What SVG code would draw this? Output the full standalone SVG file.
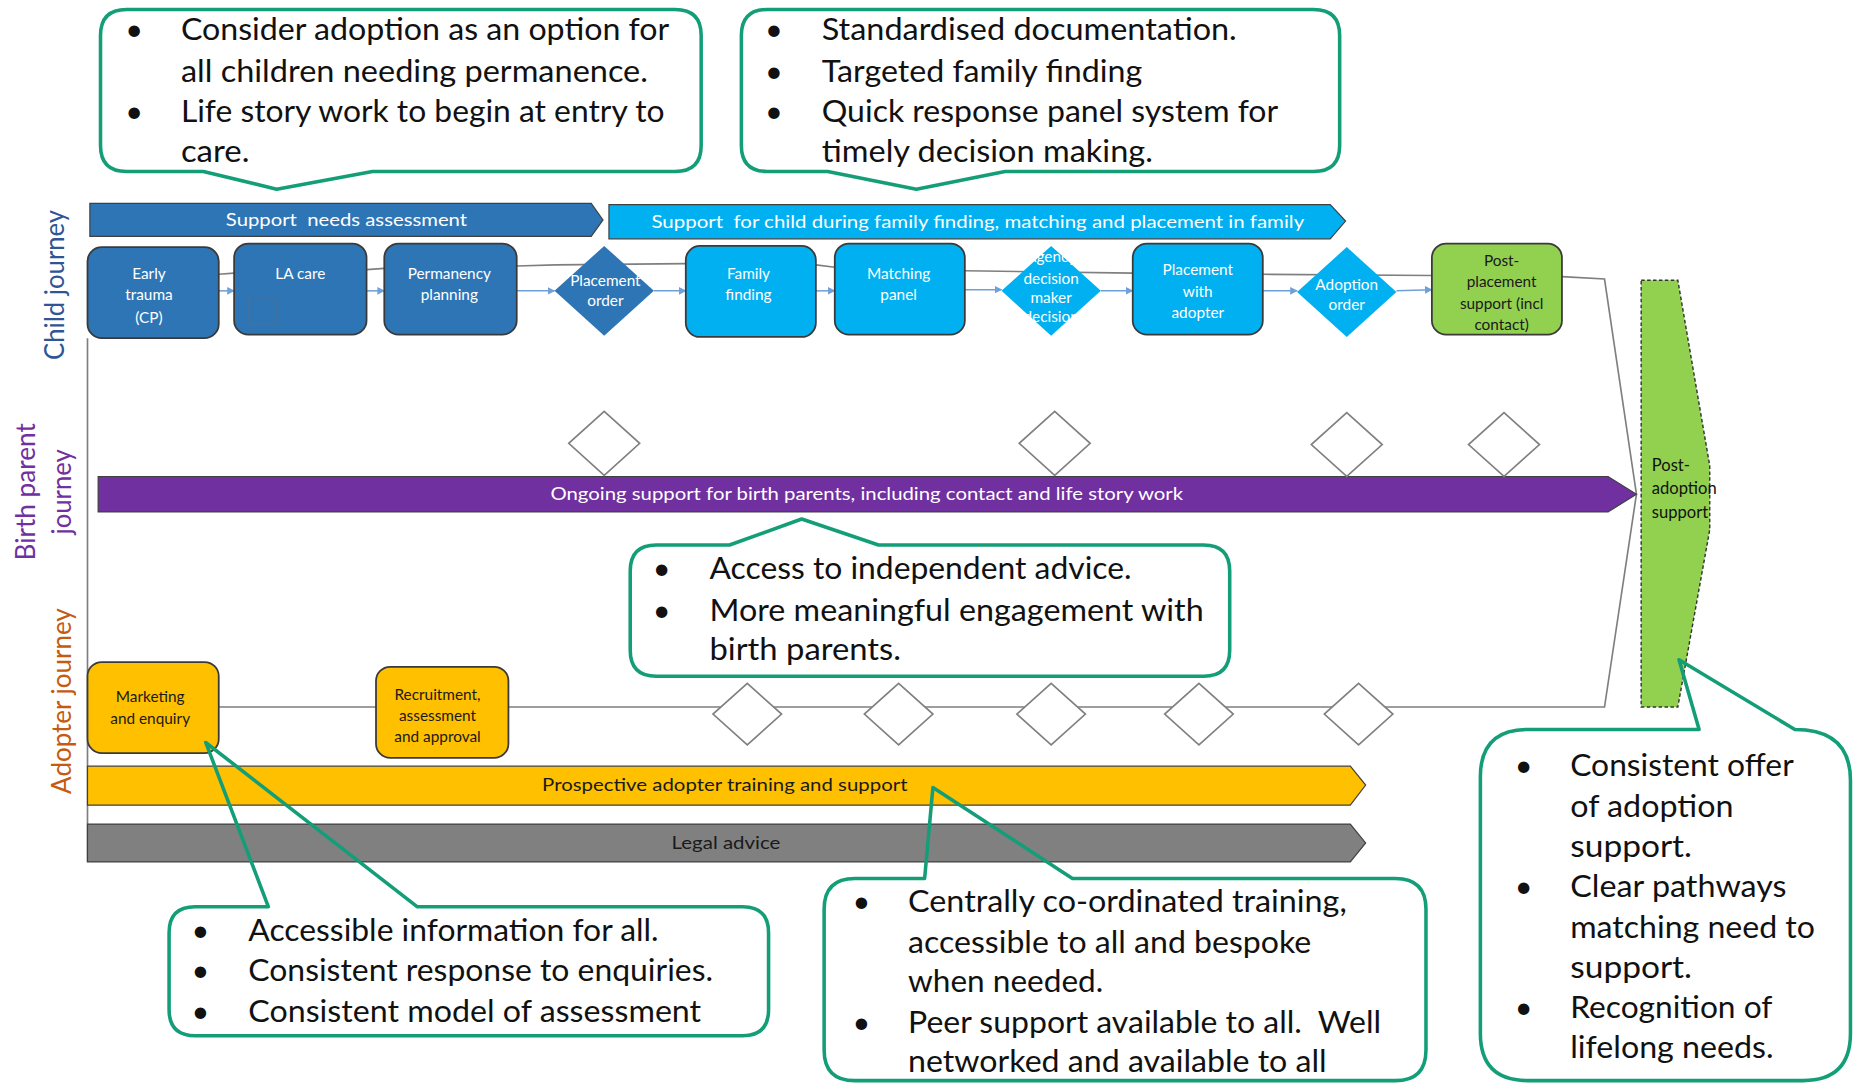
<svg xmlns="http://www.w3.org/2000/svg" width="1854" height="1083" viewBox="0 0 1854 1083">
<defs>
<style>
text{font-family:Lato,"Liberation Sans",sans-serif}
.co{fill:none;stroke:#139E78;stroke-width:3;stroke-linejoin:round}
.cb{fill:#fff}
.ct{font-size:26px;fill:#111}
.nd{stroke:#3A3A3A;stroke-width:1.5}
.blue{fill:#2E75B6}
.cyan{fill:#00B0F0}
.green{fill:#92D050}
.yel{fill:#FFC000}
.nt{font-size:13px;fill:#fff;text-anchor:middle}
.ntd{font-size:13px;fill:#1a1a1a;text-anchor:middle}
.bar{stroke:#404040;stroke-width:1}
.bt{font-size:15px;fill:#fff;text-anchor:middle;white-space:pre}
.btd{font-size:15px;fill:#1a1a1a;text-anchor:middle}
.wd{fill:#fff;stroke:#808080;stroke-width:1.4}
.gl{fill:none;stroke:#7F7F7F;stroke-width:1.4}
.ar{fill:none;stroke:#6FA0D8;stroke-width:1.3;marker-end:url(#ah)}
.lane{font-size:22px;text-anchor:middle}
</style>
<marker id="ah" viewBox="0 0 10 10" refX="9" refY="5" markerWidth="5" markerHeight="5" orient="auto" markerUnits="strokeWidth">
<path d="M0,0 L10,5 L0,10 Z" fill="#6FA0D8"/>
</marker>
</defs>
<rect width="1854" height="1083" fill="#fff"/>
<g transform="scale(1.1824,1.1823)">

<!-- lane labels -->
<g id="lane-labels">
<text class="lane" fill="#2F5597" transform="translate(46,241) rotate(-90)" dy="8" textLength="127" lengthAdjust="spacingAndGlyphs">Child journey</text>
<text class="lane" fill="#7030A0" transform="translate(22,416) rotate(-90)" dy="8" textLength="116" lengthAdjust="spacingAndGlyphs">Birth parent</text>
<text class="lane" fill="#7030A0" transform="translate(52,416) rotate(-90)" dy="8" textLength="72" lengthAdjust="spacingAndGlyphs">journey</text>
<text class="lane" fill="#C55A11" transform="translate(52,593) rotate(-90)" dy="8" textLength="157" lengthAdjust="spacingAndGlyphs">Adopter journey</text>
</g>

<!-- connectors -->
<g id="connectors">
<path class="gl" d="M74,286 L74,729"/>
<path class="gl" d="M185,232 L198,231 L310,228 L325,227 L437,225 L470,224 L580,223 L690,224 L706,226 L816,229 L958,231 L1068,232 L1211,233 L1321,234 L1357,236 L1384,418 L1357,598 L185,598"/>
<line class="ar" x1="185" y1="246" x2="198" y2="246"/>
<line class="ar" x1="310" y1="246" x2="325" y2="246"/>
<line class="ar" x1="437" y1="246" x2="469" y2="246"/>
<line class="ar" x1="553" y1="246" x2="580" y2="246"/>
<line class="ar" x1="690" y1="246" x2="706" y2="246"/>
<line class="ar" x1="816" y1="245" x2="847" y2="245"/>
<line class="ar" x1="931" y1="246" x2="958" y2="246"/>
<line class="ar" x1="1068" y1="246" x2="1097" y2="246"/>
<line class="ar" x1="1181" y1="246" x2="1211" y2="245"/>
</g>

<!-- bars -->
<g id="bar-support-needs">
<polygon class="bar blue" points="76,172 500,172 510,186 500,200 76,200"/>
<text class="bt" x="293" y="191" textLength="204" lengthAdjust="spacingAndGlyphs">Support  needs assessment</text>
</g>
<g id="bar-support-child">
<polygon class="bar cyan" points="515,173 1125,173 1138,187 1125,202 515,202"/>
<text class="bt" x="827" y="193" textLength="552" lengthAdjust="spacingAndGlyphs">Support  for child during family finding, matching and placement in family</text>
</g>
<g id="bar-birth-parent">
<polygon class="bar" fill="#7030A0" points="83,403 1360,403 1384,418 1360,433 83,433"/>
<text class="bt" x="733" y="423" textLength="535" lengthAdjust="spacingAndGlyphs">Ongoing support for birth parents, including contact and life story work</text>
</g>
<g id="bar-prospective">
<polygon class="bar yel" points="74,648 1142,648 1155,664 1142,681 74,681"/>
<text class="btd" x="613" y="669" textLength="309" lengthAdjust="spacingAndGlyphs">Prospective adopter training and support</text>
</g>
<g id="bar-legal">
<polygon class="bar" fill="#808080" points="74,697 1142,697 1155,713 1142,729 74,729"/>
<text class="btd" x="614" y="718" textLength="92" lengthAdjust="spacingAndGlyphs">Legal advice</text>
</g>

<!-- child journey nodes -->
<g id="early-trauma">
<rect class="nd blue" x="74" y="209" width="111" height="77" rx="12"/>
<text class="nt" x="126" y="236">Early</text>
<text class="nt" x="126" y="254">trauma</text>
<text class="nt" x="126" y="273">(CP)</text>
</g>
<g id="la-care">
<rect class="nd blue" x="198" y="206" width="112" height="77" rx="12"/>
<rect x="210" y="252" width="24" height="22" fill="none" stroke="#5a6f8a" stroke-width="1" opacity="0.5"/>
<text class="nt" x="254" y="236">LA care</text>
</g>
<g id="permanency-planning">
<rect class="nd blue" x="325" y="206" width="112" height="77" rx="12"/>
<text class="nt" x="380" y="236">Permanency</text>
<text class="nt" x="380" y="254">planning</text>
</g>
<g id="placement-order">
<polygon class="blue" points="511,208 553,246 511,284 469,246"/>
<text class="nt" x="512" y="242">Placement</text>
<text class="nt" x="512" y="259">order</text>
</g>
<g id="family-finding">
<rect class="nd cyan" x="580" y="208" width="110" height="77" rx="12"/>
<text class="nt" x="633" y="236">Family</text>
<text class="nt" x="633" y="254">finding</text>
</g>
<g id="matching-panel">
<rect class="nd cyan" x="706" y="206" width="110" height="77" rx="12"/>
<text class="nt" x="760" y="236">Matching</text>
<text class="nt" x="760" y="254">panel</text>
</g>
<g id="agency-decision">
<polygon class="cyan" points="889,208 931,246 889,284 847,246"/>
<text class="nt" x="889" y="222">Agency</text>
<text class="nt" x="889" y="240">decision</text>
<text class="nt" x="889" y="256">maker</text>
<text class="nt" x="889" y="272">decision</text>
</g>
<g id="placement-with-adopter">
<rect class="nd cyan" x="958" y="206" width="110" height="77" rx="12"/>
<text class="nt" x="1013" y="233">Placement</text>
<text class="nt" x="1013" y="251">with</text>
<text class="nt" x="1013" y="269">adopter</text>
</g>
<g id="adoption-order">
<polygon class="cyan" points="1139,209 1181,247 1139,285 1097,247"/>
<text class="nt" x="1139" y="245">Adoption</text>
<text class="nt" x="1139" y="262">order</text>
</g>
<g id="post-placement">
<rect class="nd green" x="1211" y="206" width="110" height="77" rx="12"/>
<text class="ntd" x="1270" y="225">Post-</text>
<text class="ntd" x="1270" y="243">placement</text>
<text class="ntd" x="1270" y="261">support (incl</text>
<text class="ntd" x="1270" y="279">contact)</text>
</g>

<!-- birth parent milestones -->
<g id="bp-milestone-1"><polygon class="wd" points="511,348 541,375 511,402 481,375"/></g>
<g id="bp-milestone-2"><polygon class="wd" points="892,348 922,375 892,402 862,375"/></g>
<g id="bp-milestone-3"><polygon class="wd" points="1139,349 1169,376 1139,403 1109,376"/></g>
<g id="bp-milestone-4"><polygon class="wd" points="1272,349 1302,376 1272,403 1242,376"/></g>

<!-- adopter journey nodes -->
<g id="marketing-enquiry">
<rect class="nd yel" x="74" y="560" width="111" height="77" rx="12"/>
<text class="ntd" x="127" y="594">Marketing</text>
<text class="ntd" x="127" y="612">and enquiry</text>
</g>
<g id="recruitment">
<rect class="nd yel" x="318" y="564" width="112" height="77" rx="12"/>
<text class="ntd" x="370" y="592">Recruitment,</text>
<text class="ntd" x="370" y="610">assessment</text>
<text class="ntd" x="370" y="628">and approval</text>
</g>
<g id="ad-milestone-1"><polygon class="wd" points="632,578 661,604 632,630 603,604"/></g>
<g id="ad-milestone-2"><polygon class="wd" points="760,578 789,604 760,630 731,604"/></g>
<g id="ad-milestone-3"><polygon class="wd" points="889,578 918,604 889,630 860,604"/></g>
<g id="ad-milestone-4"><polygon class="wd" points="1014,578 1043,604 1014,630 985,604"/></g>
<g id="ad-milestone-5"><polygon class="wd" points="1149,578 1178,604 1149,630 1120,604"/></g>

<!-- post adoption support -->
<g id="post-adoption-support">
<polygon points="1388,237 1419,237 1446,394 1446,448 1419,598 1388,598" fill="#92D050" stroke="#333" stroke-width="1.2" stroke-dasharray="3,2"/>
<text x="1397" y="398" font-size="14" fill="#111">Post-</text>
<text x="1397" y="418" font-size="14" fill="#111">adoption</text>
<text x="1397" y="438" font-size="14" fill="#111">support</text>
</g>

<!-- callouts -->
<g id="callout-1">
<rect class="cb" x="85" y="8" width="508" height="137" rx="22"/>
<path class="co" d="M107,8 H571 Q593,8 593,30 V123 Q593,145 571,145 H315 L234,160 L172,145 H107 Q85,145 85,123 V30 Q85,8 107,8 Z"/>
<text class="ct" x="106" y="34">•</text>
<text class="ct" x="153" y="34" textLength="413" lengthAdjust="spacingAndGlyphs">Consider adoption as an option for</text>
<text class="ct" x="153" y="69" textLength="395" lengthAdjust="spacingAndGlyphs">all children needing permanence.</text>
<text class="ct" x="106" y="103">•</text>
<text class="ct" x="153" y="103" textLength="409" lengthAdjust="spacingAndGlyphs">Life story work to begin at entry to</text>
<text class="ct" x="153" y="137" textLength="58" lengthAdjust="spacingAndGlyphs">care.</text>
</g>
<g id="callout-2">
<rect class="cb" x="627" y="8" width="506" height="137" rx="22"/>
<path class="co" d="M649,8 H1111 Q1133,8 1133,30 V123 Q1133,145 1111,145 H850 L775,160 L700,145 H649 Q627,145 627,123 V30 Q627,8 649,8 Z"/>
<text class="ct" x="647" y="34">•</text>
<text class="ct" x="695" y="34" textLength="351" lengthAdjust="spacingAndGlyphs">Standardised documentation.</text>
<text class="ct" x="647" y="69">•</text>
<text class="ct" x="695" y="69" textLength="271" lengthAdjust="spacingAndGlyphs">Targeted family finding</text>
<text class="ct" x="647" y="103">•</text>
<text class="ct" x="695" y="103" textLength="386" lengthAdjust="spacingAndGlyphs">Quick response panel system for</text>
<text class="ct" x="695" y="137" textLength="280" lengthAdjust="spacingAndGlyphs">timely decision making.</text>
</g>
<g id="callout-3">
<rect class="cb" x="533" y="461" width="507" height="111" rx="22"/>
<path class="co" d="M555,461 H617 L678,439 L743,461 H1018 Q1040,461 1040,483 V550 Q1040,572 1018,572 H555 Q533,572 533,550 V483 Q533,461 555,461 Z"/>
<text class="ct" x="552" y="490">•</text>
<text class="ct" x="600" y="490" textLength="357" lengthAdjust="spacingAndGlyphs">Access to independent advice.</text>
<text class="ct" x="552" y="525">•</text>
<text class="ct" x="600" y="525" textLength="418" lengthAdjust="spacingAndGlyphs">More meaningful engagement with</text>
<text class="ct" x="600" y="558" textLength="162" lengthAdjust="spacingAndGlyphs">birth parents.</text>
</g>
<g id="callout-4">
<rect class="cb" x="143" y="767" width="507" height="109" rx="22"/>
<path class="co" d="M165,767 H227 L174,628 L353,767 H628 Q650,767 650,789 V854 Q650,876 628,876 H165 Q143,876 143,854 V789 Q143,767 165,767 Z"/>
<text class="ct" x="162" y="796">•</text>
<text class="ct" x="210" y="796" textLength="347" lengthAdjust="spacingAndGlyphs">Accessible information for all.</text>
<text class="ct" x="162" y="830">•</text>
<text class="ct" x="210" y="830" textLength="393" lengthAdjust="spacingAndGlyphs">Consistent response to enquiries.</text>
<text class="ct" x="162" y="864">•</text>
<text class="ct" x="210" y="864" textLength="383" lengthAdjust="spacingAndGlyphs">Consistent model of assessment</text>
</g>
<g id="callout-5">
<rect class="cb" x="697" y="743" width="509" height="171" rx="26"/>
<path class="co" d="M723,743 H782 L789,666 L907,743 H1180 Q1206,743 1206,769 V888 Q1206,914 1180,914 H723 Q697,914 697,888 V769 Q697,743 723,743 Z"/>
<text class="ct" x="721" y="771">•</text>
<text class="ct" x="768" y="771" textLength="371" lengthAdjust="spacingAndGlyphs">Centrally co-ordinated training,</text>
<text class="ct" x="768" y="806" textLength="341" lengthAdjust="spacingAndGlyphs">accessible to all and bespoke</text>
<text class="ct" x="768" y="839" textLength="165" lengthAdjust="spacingAndGlyphs">when needed.</text>
<text class="ct" x="721" y="874">•</text>
<text class="ct" x="768" y="874" textLength="400" lengthAdjust="spacingAndGlyphs" style="white-space:pre">Peer support available to all.  Well</text>
<text class="ct" x="768" y="907" textLength="354" lengthAdjust="spacingAndGlyphs">networked and available to all</text>
</g>
<g id="callout-6">
<rect class="cb" x="1252" y="617" width="313" height="297" rx="40"/>
<path class="co" d="M1292,617 H1437 L1420,558 L1518,617 Q1565,617 1565,660 V874 Q1565,914 1525,914 H1292 Q1252,914 1252,874 V657 Q1252,617 1292,617 Z"/>
<text class="ct" x="1281" y="656">•</text>
<text class="ct" x="1328" y="656" textLength="189" lengthAdjust="spacingAndGlyphs">Consistent offer</text>
<text class="ct" x="1328" y="691" textLength="138" lengthAdjust="spacingAndGlyphs">of adoption</text>
<text class="ct" x="1328" y="725" textLength="103" lengthAdjust="spacingAndGlyphs">support.</text>
<text class="ct" x="1281" y="759">•</text>
<text class="ct" x="1328" y="759" textLength="183" lengthAdjust="spacingAndGlyphs">Clear pathways</text>
<text class="ct" x="1328" y="793" textLength="207" lengthAdjust="spacingAndGlyphs">matching need to</text>
<text class="ct" x="1328" y="827" textLength="103" lengthAdjust="spacingAndGlyphs">support.</text>
<text class="ct" x="1281" y="861">•</text>
<text class="ct" x="1328" y="861" textLength="171" lengthAdjust="spacingAndGlyphs">Recognition of</text>
<text class="ct" x="1328" y="895" textLength="172" lengthAdjust="spacingAndGlyphs">lifelong needs.</text>
</g>
</g>
</svg>
